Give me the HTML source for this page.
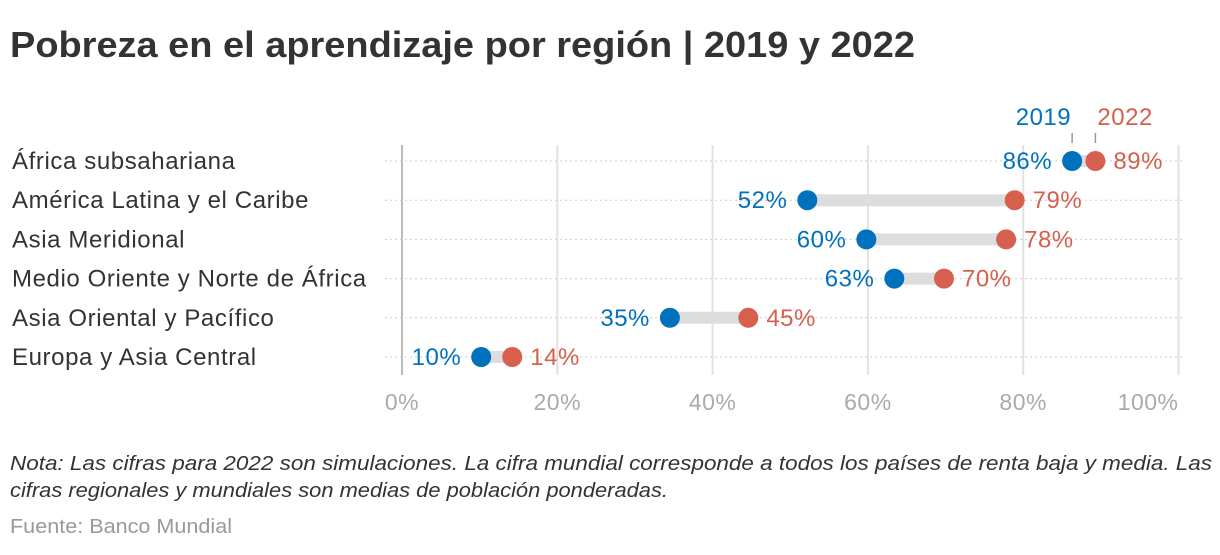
<!DOCTYPE html>
<html><head><meta charset="utf-8">
<style>
body{margin:0;background:#fff;width:1220px;height:550px;overflow:hidden;font-family:"Liberation Sans",sans-serif;}
svg text{font-family:"Liberation Sans",sans-serif;}
</style></head>
<body>
<svg id="chart" width="1220" height="550">
<text x="10" y="57" font-size="36" font-weight="bold" fill="#333" textLength="905" lengthAdjust="spacingAndGlyphs">Pobreza en el aprendizaje por región | 2019 y 2022</text>
<g id="grid"></g>
<g id="marks"></g>
<text x="10" y="470" font-size="20" font-style="italic" fill="#333" textLength="1202" lengthAdjust="spacingAndGlyphs">Nota: Las cifras para 2022 son simulaciones. La cifra mundial corresponde a todos los países de renta baja y media. Las</text>
<text x="10" y="497" font-size="20" font-style="italic" fill="#333" textLength="658" lengthAdjust="spacingAndGlyphs">cifras regionales y mundiales son medias de población ponderadas.</text>
<text x="10" y="533" font-size="20" fill="#999" textLength="222" lengthAdjust="spacingAndGlyphs">Fuente: Banco Mundial</text>
</svg>
<script>
const categories=["África subsahariana","América Latina y el Caribe","Asia Meridional","Medio Oriente y Norte de África","Asia Oriental y Pacífico","Europa y Asia Central"];
const values2019=[86.3,52.2,59.8,63.4,34.5,10.2];
const values2022=[89.3,78.9,77.8,69.8,44.6,14.2];
const labels2019=["86%","52%","60%","63%","35%","10%"];
const labels2022=["89%","79%","78%","70%","45%","14%"];
const ticks=[0,20,40,60,80,100];
const tickLabels=["0%","20%","40%","60%","80%","100%"];
const X=v=>402+v*7.765;
const Y=i=>161+i*39.2;
const NS="http://www.w3.org/2000/svg";
function mk(tag,attrs,parent,txt){const e=document.createElementNS(NS,tag);for(const k in attrs)e.setAttribute(k,attrs[k]);if(txt!==undefined)e.textContent=txt;parent.appendChild(e);return e;}
const grid=document.getElementById('grid'),marks=document.getElementById('marks');
ticks.forEach((t,i)=>{
  const l=mk('line',{x1:X(t),x2:X(t),y1:145,y2:375,stroke:t===0?'#bbb':'#e2e2e2','stroke-width':2},grid);
  
  
  const last=i===ticks.length-1;
  const tx=mk('text',{x:last?X(t):X(t),y:410,'font-size':23,fill:'#aaa','text-anchor':last?'end':'middle','letter-spacing':0.5},grid,tickLabels[i]);
  
  
});
categories.forEach((c,i)=>{
  const y=Y(i);
  const hl=mk('line',{x1:385,x2:1185,y1:y,y2:y,stroke:'#ccc','stroke-width':1,'stroke-dasharray':'2,3'},grid);
  
  
  const lab=mk('text',{x:12,y:y+8,'font-size':24,fill:'#333','letter-spacing':0.6},marks,c);
  
  
  const bar=mk('line',{x1:X(values2019[i]),x2:X(values2022[i]),y1:y,y2:y,stroke:'#ddd','stroke-width':12},marks);
  
  
  const d1=mk('circle',{cx:X(values2019[i]),cy:y,r:10,fill:'#0071bc'},marks);
  
  
  const d2=mk('circle',{cx:X(values2022[i]),cy:y,r:10,fill:'#d6604d'},marks);
  
  
  const t1=mk('text',{x:X(values2019[i])-20,y:y+8,'font-size':24,fill:'#0071bc','text-anchor':'end','letter-spacing':0.5},marks,labels2019[i]);
  
  
  const t2=mk('text',{x:X(values2022[i])+18,y:y+8,'font-size':24,fill:'#d6604d','letter-spacing':0.5},marks,labels2022[i]);
  
  
});
const x19=X(values2019[0]),x22=X(values2022[0]);
const lt1=mk('line',{x1:x19,x2:x19,y1:133,y2:143,stroke:'#999','stroke-width':1.5},marks);


const lt2=mk('line',{x1:x22,x2:x22,y1:133,y2:143,stroke:'#999','stroke-width':1.5},marks);


const lg1=mk('text',{x:x19-1,y:125,'font-size':24,fill:'#0071bc','text-anchor':'end','letter-spacing':0.5},marks,'2019');


const lg2=mk('text',{x:x22+2,y:125,'font-size':24,fill:'#d6604d','letter-spacing':0.5},marks,'2022');


</script>
</body></html>
